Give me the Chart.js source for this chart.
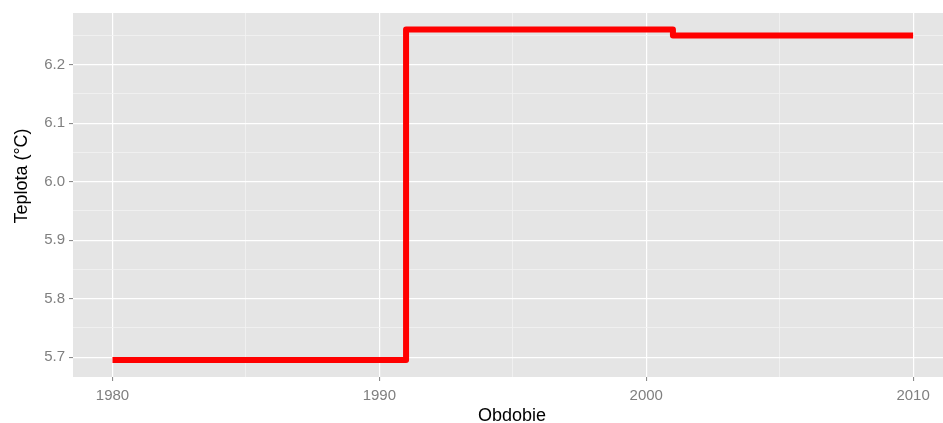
<!DOCTYPE html>
<html lang="sk">
<head>
    <meta charset="UTF-8">
    <title>Teplota - Obdobie</title>
    <style>
        body { margin: 0; background: #fff; }
        #myChart01 { display: block; }
    </style>
</head>
<body>
    <canvas id="myChart01" width="943" height="423"></canvas>
    <script src="https://cdn.jsdelivr.net/npm/chart.js"></script>
    <script>
        // údaje z obrázku
        var years = [1980, 1991, 2001, 2010];
        var temps = [5.695, 6.26, 6.25, 6.25];
        var xMajor = [1980, 1990, 2000, 2010];
        var xMinor = [1985, 1995, 2005];
        var yMajor = [5.7, 5.8, 5.9, 6.0, 6.1, 6.2];
        var yMinor = [5.75, 5.85, 5.95, 6.05, 6.15, 6.25];

        function isMajor(list, v) {
            return list.some(function (m) { return Math.abs(m - v) < 1e-6; });
        }

        // šedé pozadie panelu + názvy osí
        var panelPlugin = {
            id: 'panel',
            beforeDraw: function (chart) {
                var a = chart.chartArea;
                var c = chart.ctx;
                c.save();
                c.fillStyle = '#E5E5E5';
                c.fillRect(a.left, a.top, a.right - a.left, a.bottom - a.top);
                c.restore();
            },
            afterDraw: function (chart) {
                var c = chart.ctx;
                c.save();
                c.fillStyle = '#000';
                c.font = '18px "Liberation Sans", Arial, sans-serif';
                c.textAlign = 'center';
                c.textBaseline = 'alphabetic';
                c.fillText('Obdobie', 512, 421);
                c.translate(27, 176);
                c.rotate(-Math.PI / 2);
                c.fillText('Teplota (\u00B0C)', 0, 0);
                c.restore();
            }
        };

        var ctx01 = document.getElementById('myChart01');
        var chart01 = new Chart(ctx01, {
            type: 'line',
            data: {
                datasets: [{
                    data: years.map(function (y, i) { return { x: y, y: temps[i] }; }),
                    borderColor: '#FF0000',
                    borderWidth: 6,
                    stepped: 'before',
                    pointRadius: 0,
                    fill: false,
                    borderJoinStyle: 'round',
                    borderCapStyle: 'butt'
                }]
            },
            options: {
                responsive: false,
                animation: false,
                devicePixelRatio: 1,
                layout: { padding: { top: 11, right: 0, left: 0, bottom: 0 } },
                plugins: { legend: { display: false }, tooltip: { enabled: false } },
                scales: {
                    x: {
                        type: 'linear',
                        min: 1978.52,
                        max: 2011.12,
                        afterBuildTicks: function (s) {
                            s.ticks = xMajor.concat(xMinor).map(function (v) { return { value: v }; });
                        },
                        afterFit: function (s) { s.height = 46; },
                        border: { display: false },
                        grid: {
                            color: function (c) { return isMajor(xMajor, c.tick.value) ? '#FFFFFF' : '#F2F2F2'; },
                            lineWidth: function (c) { return isMajor(xMajor, c.tick.value) ? 1.2 : 0.8; },
                            tickColor: function (c) { return isMajor(xMajor, c.tick.value) ? '#7F7F7F' : 'rgba(0,0,0,0)'; },
                            tickLength: 4,
                            tickWidth: 1
                        },
                        ticks: {
                            autoSkip: false,
                            maxRotation: 0,
                            padding: 6,
                            color: '#7F7F7F',
                            font: { family: '"Liberation Sans", Arial, sans-serif', size: 15 },
                            callback: function (v) { return isMajor(xMajor, v) ? String(v) : ''; }
                        }
                    },
                    y: {
                        type: 'linear',
                        min: 5.666,
                        max: 6.2884,
                        afterBuildTicks: function (s) {
                            s.ticks = yMajor.concat(yMinor).map(function (v) { return { value: v }; });
                        },
                        afterFit: function (s) { s.width = 73; },
                        border: { display: false },
                        grid: {
                            color: function (c) { return isMajor(yMajor, c.tick.value) ? '#FFFFFF' : '#F2F2F2'; },
                            lineWidth: function (c) { return isMajor(yMajor, c.tick.value) ? 1.2 : 0.8; },
                            tickColor: function (c) { return isMajor(yMajor, c.tick.value) ? '#7F7F7F' : 'rgba(0,0,0,0)'; },
                            tickLength: 4,
                            tickWidth: 1
                        },
                        ticks: {
                            autoSkip: false,
                            padding: 4,
                            color: '#7F7F7F',
                            font: { family: '"Liberation Sans", Arial, sans-serif', size: 15 },
                            callback: function (v) { return isMajor(yMajor, v) ? v.toFixed(1) : ''; }
                        }
                    }
                }
            },
            plugins: [panelPlugin]
        });
    </script>
</body>
</html>
